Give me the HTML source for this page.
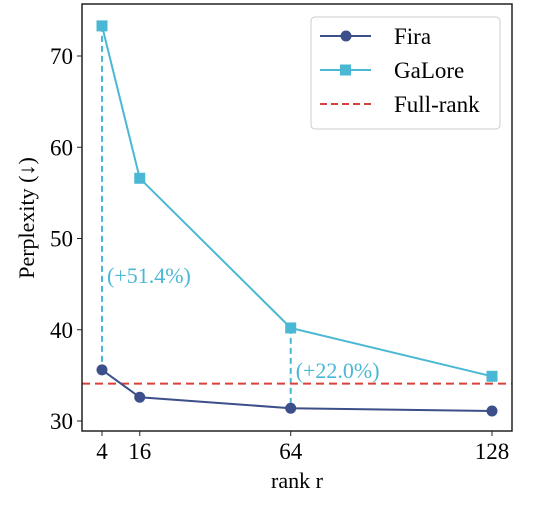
<!DOCTYPE html>
<html><head><meta charset="utf-8"><style>
body{margin:0;background:#fff;}
svg text{font-family:"Liberation Serif",serif;}
</style></head><body>
<svg id="c" width="538" height="502"></svg>
<script>
const ranks=[4,16,64,128];
const fira=[35.6,32.6,31.4,31.1];
const galore=[73.3,56.6,40.2,34.9];
const fullRank=34.1;
const yTicks=[30,40,50,60,70];
const annotations=["(+51.4%)","(+22.0%)"];
const annIdx=[0,2];
const NS="http://www.w3.org/2000/svg";
const svg=document.getElementById('c');
const L=82,R=512,T=4,B=431;
const xs=r=>102+(r-4)*(492-102)/124;
const ys=v=>421-(v-30)*(421-56)/40;
function el(t,a,txt){const e=document.createElementNS(NS,t);for(const k in a)e.setAttribute(k,a[k]);if(txt!=null)e.textContent=txt;svg.appendChild(e);return e;}
annIdx.forEach((i,j)=>{
 const v=el('line',{x1:xs(ranks[i]),x2:xs(ranks[i]),y1:ys(galore[i]),y2:ys(fira[i]),stroke:'#4ab8d4','stroke-width':2,'stroke-dasharray':'6,4'});
 
 
 const t=el('text',{x:xs(ranks[i])+5,y:j==0?283:378,'font-size':22,fill:'#4ab8d4'},annotations[j]);
 
 
});
const fr=el('line',{x1:L,x2:R,y1:ys(fullRank),y2:ys(fullRank),stroke:'#d9423a','stroke-width':2,'stroke-dasharray':'8,5'});


function series(vals,color,name,sq){
 const p=el('polyline',{points:ranks.map((r,i)=>xs(r)+','+ys(vals[i])).join(' '),fill:'none',stroke:color,'stroke-width':2});
 
 
 ranks.forEach((r,i)=>{
  const m=sq?el('rect',{x:xs(r)-5.5,y:ys(vals[i])-5.5,width:11,height:11,fill:color}):el('circle',{cx:xs(r),cy:ys(vals[i]),r:5.5,fill:color});
  
  
 });
}
series(galore,'#4ab8d4','galore',true);
series(fira,'#3c4f8a','fira',false);
const ax=el('rect',{x:L,y:T,width:R-L,height:B-T,fill:'none',stroke:'#222','stroke-width':1.5});


yTicks.forEach(v=>{
 el('line',{x1:L-5,x2:L,y1:ys(v),y2:ys(v),stroke:'#222'});
 const t=el('text',{x:L-9,y:ys(v)+8,'font-size':23,'text-anchor':'end'},v);
 
 
});
ranks.forEach(r=>{
 el('line',{x1:xs(r),x2:xs(r),y1:B,y2:B+5,stroke:'#222'});
 const t=el('text',{x:xs(r),y:B+28,'font-size':23,'text-anchor':'middle'},r);
 
 
});
const xt=el('text',{x:297,y:488,'font-size':22,'text-anchor':'middle'},'rank r');


const yt=el('text',{x:0,y:0,'font-size':22,'text-anchor':'middle',transform:'translate(34,218) rotate(-90)'},'Perplexity (↓)');


const lg=el('rect',{x:311,y:17,width:189,height:112,rx:4,fill:'#fff',stroke:'#ccc'});


[['Fira','#3c4f8a','c'],['GaLore','#4ab8d4','s'],['Full-rank','#d9423a','d']].forEach((e,i)=>{
 const y=36+i*34;
 if(e[2]=='d')el('line',{x1:320,x2:371,y1:y,y2:y,stroke:e[1],'stroke-width':2,'stroke-dasharray':'7,4'});
 else{el('line',{x1:320,x2:371,y1:y,y2:y,stroke:e[1],'stroke-width':2});
  if(e[2]=='c')el('circle',{cx:346,cy:y,r:5.5,fill:e[1]});else el('rect',{x:340,y:y-5.5,width:11,height:11,fill:e[1]});}
 const t=el('text',{x:394,y:y+8,'font-size':23},e[0]);
 
 
});
</script>
</body></html>
